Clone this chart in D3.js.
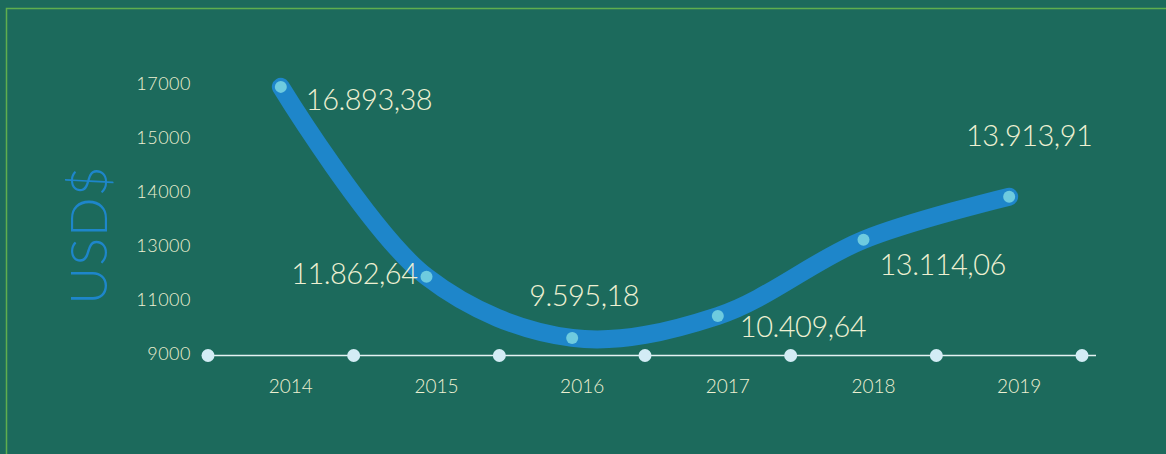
<!DOCTYPE html>
<html lang="en">
<head>
    <meta charset="UTF-8">
    <title>USD$ 2014 - 2019</title>
    <script src="https://d3js.org/d3.v7.min.js"></script>
    <style>
        body {
            margin: 0;
            background-color: #1c6a5c;
            overflow: hidden;
        }
        text {
            font-family: "Lato", "Open Sans", sans-serif;
            font-weight: 300;
            fill: #eef0d2;
        }
    </style>
</head>
<body>
    <div id="chart"></div>
    <script>
        var w = 1166;
        var h = 454;

        // data
        var years = ["2014", "2015", "2016", "2017", "2018", "2019"];
        var values = [16893.38, 11862.64, 9595.18, 10409.64, 13114.06, 13913.91];
        var valueLabels = ["16.893,38", "11.862,64", "9.595,18", "10.409,64", "13.114,06", "13.913,91"];
        var yTicks = [9000, 11000, 13000, 14000, 15000, 17000];

        // where each value label sits relative to its point
        var labelPlacement = [
            {dx: 25, dy: 23, anchor: "start"},
            {dx: -9, dy: 7, anchor: "end"},
            {dx: 12, dy: -32, anchor: "middle"},
            {dx: 22, dy: 21, anchor: "start"},
            {dx: 16, dy: 35, anchor: "start"},
            {dx: 20, dy: -51, anchor: "middle"}
        ];

        var svg = d3.select("#chart")
                    .append("svg")
                    .attr("width", w)
                    .attr("height", h);

        // thin green frame
        svg.append("rect")
           .attr("x", 6.5)
           .attr("y", 8.5)
           .attr("width", w + 20)
           .attr("height", h + 20)
           .attr("fill", "none")
           .attr("stroke", "#5fae4e")
           .attr("stroke-width", 1.5);

        var xScale = d3.scaleBand()
                       .domain(years)
                       .range([208, 1082]);

        // tick labels are evenly spaced though their values are not
        var yScale = d3.scaleLinear()
                       .domain(yTicks)
                       .range(d3.range(yTicks.length).map(function(i) { return 354 - i * 54; }));

        function px(d, i) { return xScale(years[i]) + xScale.bandwidth() / 2; }
        function py(d) { return yScale(d); }

        // y tick labels
        svg.selectAll(".ytick")
           .data(yTicks)
           .enter()
           .append("text")
           .attr("class", "ytick")
           .attr("x", 191)
           .attr("y", function(d) { return yScale(d); })
           .attr("dy", "0.35em")
           .attr("text-anchor", "end")
           .style("font-size", "18px")
           .style("letter-spacing", "0.5px")
           .text(function(d) { return d; });

        // axis title
        svg.append("text")
           .attr("transform", "translate(107,235) rotate(-90)")
           .attr("text-anchor", "middle")
           .style("font-size", "52px")
           .style("fill", "#1e86ca")
           .style("letter-spacing", "1px")
           .text("USD$");

        // x baseline with dots at band edges
        var edges = years.map(function(y) { return xScale(y); }).concat([xScale.range()[1]]);

        svg.append("line")
           .attr("x1", edges[0])
           .attr("x2", 1096)
           .attr("y1", 355.5)
           .attr("y2", 355.5)
           .attr("stroke", "#e4f2f2")
           .attr("stroke-width", 1.5);

        svg.selectAll(".edge")
           .data(edges)
           .enter()
           .append("circle")
           .attr("class", "edge")
           .attr("cx", function(d) { return d; })
           .attr("cy", 355.5)
           .attr("r", 6.5)
           .attr("fill", "#d3ecf5");

        // year labels
        svg.selectAll(".year")
           .data(years)
           .enter()
           .append("text")
           .attr("class", "year")
           .attr("x", function(d) { return xScale(d) + xScale.bandwidth() / 2 + 10; })
           .attr("y", 393)
           .attr("text-anchor", "middle")
           .style("font-size", "19px")
           .text(function(d) { return d; });

        // the line
        var line = d3.line()
                     .x(px)
                     .y(py)
                     .curve(d3.curveCatmullRom.alpha(0.5));

        svg.append("path")
           .datum(values)
           .attr("d", line)
           .attr("fill", "none")
           .attr("stroke", "#1e86ca")
           .attr("stroke-width", 18)
           .attr("stroke-linecap", "round")
           .attr("stroke-linejoin", "round");

        svg.selectAll(".point")
           .data(values)
           .enter()
           .append("circle")
           .attr("class", "point")
           .attr("cx", px)
           .attr("cy", py)
           .attr("r", 6)
           .attr("fill", "#6ecbdf");

        // value labels
        svg.selectAll(".value")
           .data(values)
           .enter()
           .append("text")
           .attr("class", "value")
           .attr("x", function(d, i) { return px(d, i) + labelPlacement[i].dx; })
           .attr("y", function(d, i) { return py(d) + labelPlacement[i].dy; })
           .attr("text-anchor", function(d, i) { return labelPlacement[i].anchor; })
           .style("font-size", "29px")
           .style("letter-spacing", "-0.5px")
           .text(function(d, i) { return valueLabels[i]; });
    </script>
</body>
</html>
